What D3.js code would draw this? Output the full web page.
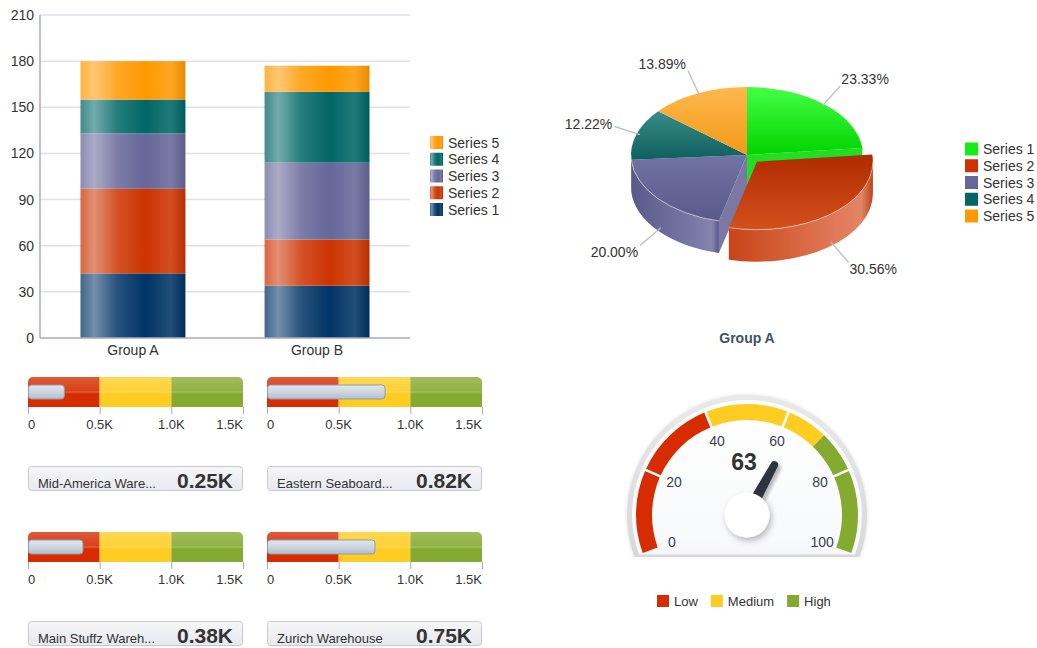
<!DOCTYPE html>
<html>
<head>
<meta charset="utf-8">
<script src="https://cdn.jsdelivr.net/npm/d3@7"></script>
<style>
  html, body { margin: 0; padding: 0; background: #fff; }
  svg { display: block; font-family: "Liberation Sans", Arial, sans-serif; }
</style>
</head>
<body>
<svg id="chart" width="1037" height="648"></svg>
<script>
// ---------- data ----------
const groups = ["Group A", "Group B"];
const seriesNames = ["Series 1", "Series 2", "Series 3", "Series 4", "Series 5"];
const groupAValues = [42, 55, 36, 22, 25];
const groupBValues = [34, 30, 50, 46, 17];
const yTicks = [0, 30, 60, 90, 120, 150, 180, 210];

const meterLabels = ["Mid-America Ware...", "Eastern Seaboard...", "Main Stuffz Wareh...", "Zurich Warehouse"];
const meterValues = [250, 820, 380, 750];
const meterThresholds = [0, 500, 1000, 1500];
const meterTickLabels = ["0", "0.5K", "1.0K", "1.5K"];

const gaugeValue = 63;
const gaugeBandNames = ["Low", "Medium", "High"];
const gaugeBandLimits = [0, 40, 70, 100];
const gaugeTicks = [0, 20, 40, 60, 80, 100];

// ---------- styles ----------
const barColors = ["#003366", "#cc3300", "#666699", "#006666", "#ff9900"];
const pieLegendColors = ["#11ee11", "#cc3300", "#666699", "#006666", "#ff9900"];
const pieTopColors = [["#44ff44", "#00d400"], ["#b02c00", "#d4501e"], ["#7373a3", "#5a5a8a"], ["#3a8c88", "#0e5f5e"], ["#ffb84d", "#f29a18"]];
const pieWallColors = [["#00c000", "#22dd22"], ["#c94418", "#e07a58"], ["#5a5a8a", "#7a7aa8"], ["#0a5a5a", "#2a7a78"], ["#e08a10", "#ffaa33"]];
const pieFaceColors = ["#22dd22", "#d45a2a", "#7a78a6", "#1a7070", "#ffaa33"];
const rangeColors = ["#d62c00", "#ffcc22", "#85aa30"];
const textColor = "#333";

const svg = d3.select("#chart");
const defs = svg.append("defs");

function mix(a, b, t) { return d3.interpolateRgb(a, b)(t); }

function addLinear(id, stops, vertical) {
  const g = defs.append("linearGradient").attr("id", id)
    .attr("x1", 0).attr("y1", 0)
    .attr("x2", vertical ? 0 : 1).attr("y2", vertical ? 1 : 0);
  stops.forEach(([o, c, op]) => {
    const s = g.append("stop").attr("offset", o).attr("stop-color", c);
    if (op !== undefined) s.attr("stop-opacity", op);
  });
  return `url(#${id})`;
}

// cylinder-like shading for the stacked bars
const barFills = barColors.map((c, i) => addLinear("bar" + i, [
  [0, mix(c, "#fff", 0.25)],
  [0.13, mix(c, "#fff", 0.45)],
  [0.35, mix(c, "#fff", 0.15)],
  [0.62, c],
  [0.86, mix(c, "#fff", 0.13)],
  [1, mix(c, "#000", 0.1)]
]));

// ---------- stacked bar chart ----------
const x = d3.scaleBand().domain(groups).range([40, 410]).paddingInner(0.43).paddingOuter(0.22);
const y = d3.scaleLinear().domain([0, 210]).range([338, 15]);

const rows = groups.map((g, gi) => {
  const r = { group: g };
  const vals = gi === 0 ? groupAValues : groupBValues;
  seriesNames.forEach((s, si) => r[s] = vals[si]);
  return r;
});
const stacked = d3.stack().keys(seriesNames)(rows);

const bar = svg.append("g");
bar.append("g").selectAll("line").data(yTicks.filter(t => t > 0)).join("line")
  .attr("x1", 40).attr("x2", 410).attr("y1", d => y(d)).attr("y2", d => y(d))
  .attr("stroke", "#e0e0ea").attr("stroke-width", 1.5);

stacked.forEach((layer, si) => {
  bar.append("g").selectAll("rect").data(layer).join("rect")
    .attr("x", d => x(d.data.group))
    .attr("width", x.bandwidth())
    .attr("y", d => y(d[1]))
    .attr("height", d => y(d[0]) - y(d[1]))
    .attr("fill", barFills[si]);
});

const yAxis = bar.append("g").attr("transform", "translate(40,0)")
  .call(d3.axisLeft(y).tickValues(yTicks).tickSize(0).tickPadding(6));
yAxis.select(".domain").remove();
yAxis.selectAll("text").attr("font-size", 14).attr("fill", textColor).attr("font-family", "Liberation Sans, Arial, sans-serif");

const xAxis = bar.append("g").attr("transform", "translate(0,338)")
  .call(d3.axisBottom(x).tickSize(0).tickPadding(7));
xAxis.select(".domain").remove();
xAxis.selectAll("text").attr("font-size", 14).attr("fill", textColor).attr("font-family", "Liberation Sans, Arial, sans-serif");

bar.append("line").attr("x1", 40).attr("x2", 40).attr("y1", 15).attr("y2", 338)
  .attr("stroke", "#a9a9c6").attr("stroke-width", 1.5);
bar.append("line").attr("x1", 40).attr("x2", 410).attr("y1", 338).attr("y2", 338)
  .attr("stroke", "#a9a9c6").attr("stroke-width", 1.5);

// legend (top-down: last series first)
const barLegend = bar.append("g").selectAll("g").data(seriesNames.map((s, i) => i).reverse()).join("g")
  .attr("transform", (d, k) => `translate(430,${136 + k * 16.75})`);
barLegend.append("rect").attr("width", 13).attr("height", 13).attr("fill", d => barFills[d]);
barLegend.append("text").attr("x", 18).attr("y", 11.5).attr("font-size", 14).attr("fill", textColor)
  .text(d => seriesNames[d]);

// ---------- 3D pie ----------
const pieCx = 747, pieCy = 155, pieRx = 116, pieRy = 68, pieDepth = 32;
const explodeIndex = 1, explodeDist = 0.13;
const slices = d3.pie().sort(null).value(d => d)(groupAValues);
const total = d3.sum(groupAValues);
const pct = d3.format(".2%");

function offsetOf(s) {
  if (s.index !== explodeIndex) return [0, 0];
  const m = (s.startAngle + s.endAngle) / 2;
  return [explodeDist * pieRx * Math.sin(m), -explodeDist * pieRy * Math.cos(m)];
}
function pt(a, f, o) {
  return [pieCx + o[0] + pieRx * f * Math.sin(a), pieCy + o[1] - pieRy * f * Math.cos(a)];
}
function wallPath(s, o) {
  const b0 = Math.max(s.startAngle, Math.PI / 2), b1 = Math.min(s.endAngle, 3 * Math.PI / 2);
  if (b1 <= b0) return null;
  const p0 = pt(b0, 1, o), p1 = pt(b1, 1, o);
  return `M${p0}A${pieRx},${pieRy} 0 0 1 ${p1}L${p1[0]},${p1[1] + pieDepth}` +
    `A${pieRx},${pieRy} 0 0 0 ${p0[0]},${p0[1] + pieDepth}Z`;
}
function rimPath(s, o) {
  const b0 = Math.max(s.startAngle, Math.PI / 2), b1 = Math.min(s.endAngle, 3 * Math.PI / 2);
  if (b1 <= b0) return null;
  const p0 = pt(b0, 1, o), p1 = pt(b1, 1, o);
  return `M${p0}A${pieRx},${pieRy} 0 0 1 ${p1}`;
}
function facePath(a, o) {
  const c = [pieCx + o[0], pieCy + o[1]], p = pt(a, 1, o);
  return `M${c}L${p}L${p[0]},${p[1] + pieDepth}L${c[0]},${c[1] + pieDepth}Z`;
}

const topFills = pieTopColors.map((c, i) => addLinear("ptop" + i, [[0, c[0]], [1, c[1]]], true));
const wallFills = pieWallColors.map((c, i) => addLinear("pwall" + i, [[0, c[0]], [0.75, c[1]], [0.92, mix(c[1], "#fff", 0.08)], [1, mix(c[0], "#000", 0.05)]]));
const topArc = d3.arc().innerRadius(0).outerRadius(pieRx);

const pie = svg.append("g");
function drawSlice(s) {
  const o = offsetOf(s);
  const w = wallPath(s, o);
  if (w) pie.append("path").attr("d", w).attr("fill", wallFills[s.index]);
  pie.append("path").attr("d", topArc(s))
    .attr("transform", `translate(${pieCx + o[0]},${pieCy + o[1]}) scale(1,${pieRy / pieRx})`)
    .attr("fill", topFills[s.index]);
  const r = rimPath(s, o);
  if (r) pie.append("path").attr("d", r).attr("fill", "none").attr("stroke", "#fff")
    .attr("stroke-opacity", 0.45).attr("stroke-width", 1);
}
// walls of the seated slices, faces exposed by the pulled-out slice, then the pulled-out slice
slices.filter(s => s.index !== explodeIndex).forEach(s => {
  const w = wallPath(s, [0, 0]);
  if (w) pie.append("path").attr("d", w).attr("fill", wallFills[s.index]);
});
const prev = slices[(explodeIndex + slices.length - 1) % slices.length];
const next = slices[(explodeIndex + 1) % slices.length];
pie.append("path").attr("d", facePath(prev.endAngle, [0, 0])).attr("fill", pieFaceColors[prev.index]);
pie.append("path").attr("d", facePath(next.startAngle, [0, 0])).attr("fill", pieFaceColors[next.index]);
slices.filter(s => s.index !== explodeIndex).forEach(s => {
  pie.append("path").attr("d", topArc(s))
    .attr("transform", `translate(${pieCx},${pieCy}) scale(1,${pieRy / pieRx})`)
    .attr("fill", topFills[s.index]);
  const r = rimPath(s, [0, 0]);
  if (r) pie.append("path").attr("d", r).attr("fill", "none").attr("stroke", "#fff")
    .attr("stroke-opacity", 0.45).attr("stroke-width", 1);
});
drawSlice(slices[explodeIndex]);

// percentage labels with leader lines
slices.forEach(s => {
  const o = offsetOf(s);
  const m = (s.startAngle + s.endAngle) / 2;
  const front = Math.cos(m) < 0;
  const p = pt(m, 0.97, o);
  const start = [p[0], p[1] + (front ? pieDepth * 0.95 : 0)];
  const end = [start[0] + 27 * Math.sin(m), start[1] - 27 * Math.cos(m)];
  pie.append("line").attr("x1", start[0]).attr("y1", start[1]).attr("x2", end[0]).attr("y2", end[1])
    .attr("stroke", "#b4bccc").attr("stroke-width", 1.3);
  const right = Math.sin(m) >= 0;
  const c = Math.cos(m);
  pie.append("text")
    .attr("x", end[0] + (right ? 1 : -2))
    .attr("y", end[1] + (c > 0.5 ? -2 : c < -0.3 ? 12 : 3))
    .attr("text-anchor", right ? "start" : "end")
    .attr("font-size", 14).attr("fill", textColor)
    .text(pct(s.data / total));
});

pie.append("text").attr("x", pieCx).attr("y", 343).attr("text-anchor", "middle")
  .attr("font-size", 14).attr("font-weight", "bold").attr("fill", "#3b526b").text(groups[0]);

const pieLegend = pie.append("g").selectAll("g").data(seriesNames).join("g")
  .attr("transform", (d, i) => `translate(965,${142.5 + i * 16.75})`);
pieLegend.append("rect").attr("width", 13).attr("height", 13).attr("fill", (d, i) => pieLegendColors[i]);
pieLegend.append("text").attr("x", 18).attr("y", 11.5).attr("font-size", 14).attr("fill", textColor).text(d => d);

// ---------- bullet meters ----------
const meterW = 215, meterH = 30;
const meterX = [28, 267], meterTop = [377, 532];
const meterScale = d3.scaleLinear().domain([0, 1500]).range([0, meterW]);
const glossFill = addLinear("gloss", [[0, "#fff", 0.22], [0.45, "#fff", 0.1], [0.5, "#fff", 0.25], [0.56, "#fff", 0], [1, "#fff", 0]], true);
const indFill = addLinear("ind", [[0, "#e2e7ef"], [0.5, "#cdd5e1"], [1, "#b3bdcd"]], true);
const boxFill = addLinear("box", [[0, "#f6f6f8"], [1, "#e8e9ee"]], true);

meterValues.forEach((v, i) => {
  const x0 = meterX[i % 2], top = meterTop[Math.floor(i / 2)];
  const g = svg.append("g").attr("transform", `translate(${x0},${top})`);
  const clip = defs.append("clipPath").attr("id", "mclip" + i);
  clip.append("rect").attr("width", meterW).attr("height", meterH).attr("rx", 5);
  clip.append("rect").attr("y", 10).attr("width", meterW).attr("height", meterH - 10);
  const body = g.append("g").attr("clip-path", `url(#mclip${i})`);
  body.selectAll("rect.band").data(d3.range(meterThresholds.length - 1)).join("rect")
    .attr("class", "band")
    .attr("x", k => meterScale(meterThresholds[k]))
    .attr("width", k => meterScale(meterThresholds[k + 1]) - meterScale(meterThresholds[k]))
    .attr("height", meterH).attr("fill", k => rangeColors[k]);
  body.append("rect").attr("width", meterW).attr("height", meterH).attr("fill", glossFill);
  body.append("rect").attr("x", 0.5).attr("y", 8).attr("width", meterScale(v)).attr("height", 14)
    .attr("rx", 3).attr("fill", indFill).attr("stroke", "#8d9bb2").attr("stroke-width", 1);

  g.selectAll("line.tick").data(meterThresholds).join("line").attr("class", "tick")
    .attr("x1", d => meterScale(d) + 0.5).attr("x2", d => meterScale(d) + 0.5)
    .attr("y1", meterH).attr("y2", meterH + 7).attr("stroke", "#a4abbd");
  g.selectAll("text.tl").data(meterThresholds).join("text").attr("class", "tl")
    .attr("x", d => meterScale(d))
    .attr("y", 52)
    .attr("text-anchor", (d, k) => k === 0 ? "start" : k === meterThresholds.length - 1 ? "end" : "middle")
    .attr("font-size", 13).attr("fill", textColor)
    .text((d, k) => meterTickLabels[k]);

  g.append("rect").attr("x", 0.5).attr("y", 89.5).attr("width", meterW - 1).attr("height", 24).attr("rx", 3)
    .attr("fill", boxFill).attr("stroke", "#c6c9d3");
  g.append("text").attr("x", 10).attr("y", 110.5).attr("font-size", 13).attr("fill", textColor).text(meterLabels[i]);
  g.append("text").attr("x", 205).attr("y", 111).attr("text-anchor", "end").attr("font-size", 21)
    .attr("font-weight", "bold").attr("fill", textColor).text(d3.format(".2f")(v / 1000) + "K");
});

// ---------- dial gauge ----------
const gCx = 747, gCy = 515;
const ang = d3.scaleLinear().domain([0, 100]).range([-110 * Math.PI / 180, 110 * Math.PI / 180]);
const gauge = svg.append("g").attr("transform", `translate(${gCx},${gCy})`);

const gclip = defs.append("clipPath").attr("id", "gclip");
gclip.append("rect").attr("x", -130).attr("y", -130).attr("width", 260).attr("height", 130 + 42);
const fclip = defs.append("clipPath").attr("id", "fclip");
fclip.append("rect").attr("x", -130).attr("y", -130).attr("width", 260).attr("height", 130 + 39.5);

const shadow = defs.append("filter").attr("id", "soft").attr("x", "-50%").attr("y", "-50%").attr("width", "200%").attr("height", "200%");
shadow.append("feDropShadow").attr("dx", 2).attr("dy", 3).attr("stdDeviation", 3)
  .attr("flood-color", "#000").attr("flood-opacity", 0.28);
const blur = defs.append("filter").attr("id", "bz").attr("x", "-20%").attr("y", "-20%").attr("width", "140%").attr("height", "140%");
blur.append("feGaussianBlur").attr("stdDeviation", 1.5);

const bezelFill = addLinear("bezel", [[0, "#e9e9ea"], [1, "#cfd0d3"]], true);
const faceFill = addLinear("face", [[0, "#ffffff"], [0.6, "#f8f9fa"], [1, "#eceef1"]], true);

gauge.append("circle").attr("r", 121).attr("fill", "#000").attr("opacity", 0.08)
  .attr("filter", "url(#bz)").attr("clip-path", "url(#gclip)");
gauge.append("circle").attr("r", 120).attr("fill", bezelFill).attr("clip-path", "url(#gclip)");
gauge.append("circle").attr("r", 115).attr("fill", faceFill).attr("clip-path", "url(#fclip)");

const bandArc = d3.arc().innerRadius(95).outerRadius(111);
gauge.selectAll("path.band").data(d3.range(gaugeBandNames.length)).join("path").attr("class", "band")
  .attr("d", k => bandArc({ startAngle: ang(gaugeBandLimits[k]), endAngle: ang(gaugeBandLimits[k + 1]) }))
  .attr("fill", k => rangeColors[k]);
// white dividers at inner major ticks
gauge.selectAll("line.div").data(gaugeTicks.slice(1, -1)).join("line").attr("class", "div")
  .attr("x1", d => 93 * Math.sin(ang(d))).attr("y1", d => -93 * Math.cos(ang(d)))
  .attr("x2", d => 113 * Math.sin(ang(d))).attr("y2", d => -113 * Math.cos(ang(d)))
  .attr("stroke", "#fff").attr("stroke-width", 2.5);

gauge.selectAll("text.gt").data(gaugeTicks).join("text").attr("class", "gt")
  .attr("x", d => 80 * Math.sin(ang(d)))
  .attr("y", d => -80 * Math.cos(ang(d)) + 5)
  .attr("text-anchor", "middle").attr("font-size", 14).attr("fill", "#3a3f50").text(d => d);

gauge.append("text").attr("x", -3).attr("y", -45).attr("text-anchor", "middle")
  .attr("font-size", 23).attr("font-weight", "bold").attr("fill", textColor).text(gaugeValue);

const needleD = "M-6,0L-3.8,-57A3.8,3.8 0 0 1 3.8,-57L6,0Z";
const needleDeg = ang(gaugeValue) * 180 / Math.PI;
gauge.append("path").attr("d", needleD).attr("fill", "#000").attr("opacity", 0.25)
  .attr("filter", "url(#bz)").attr("transform", `translate(3,3) rotate(${needleDeg})`);
gauge.append("path").attr("d", needleD).attr("fill", "#2d3440").attr("transform", `rotate(${needleDeg})`);
gauge.append("circle").attr("r", 22.5).attr("fill", "#fff").attr("filter", "url(#soft)");

// gauge legend
const gl = svg.append("g").attr("transform", "translate(657,595)");
let cursor = 0;
gaugeBandNames.forEach((n, k) => {
  const item = gl.append("g").attr("transform", `translate(${cursor},0)`);
  item.append("rect").attr("width", 12).attr("height", 12).attr("fill", rangeColors[k]);
  const t = item.append("text").attr("x", 17).attr("y", 10.5).attr("font-size", 13).attr("fill", textColor).text(n);
  cursor += 17 + t.node().getComputedTextLength() + 13;
});
</script>
</body>
</html>
